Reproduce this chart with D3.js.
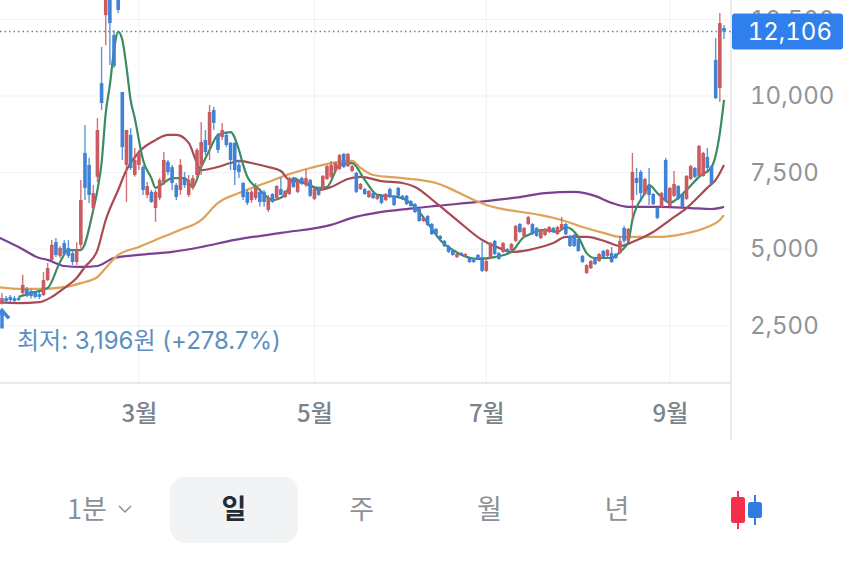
<!DOCTYPE html>
<html lang="ko">
<head>
<meta charset="utf-8">
<script src="https://cdn.jsdelivr.net/npm/d3@7"></script>
<style>
  html, body { margin: 0; padding: 0; background: #fff; }
  svg { display: block; font-family: "Noto Sans CJK KR", "Noto Sans", sans-serif; }
</style>
</head>
<body>
<div id="chart"></div>
<script>
// Daily candles (won). Index = trading day.
var opens = [3210,3400,3440,3400,3400,3570,3700,3630,3600,3530,3500,3990,4650,5230,4780,5200,5040,4870,4580,5140,
  8140,7750,6340,7360,10420,12640,13200,11990,13200,10130,7750,8730,7420,7750,7680,6770,6870,6340,6670,7190,
  7850,7680,7090,6930,7320,6770,7000,7420,7750,8560,8400,9540,8730,8660,8730,8470,8470,7750,7160,6870,
  6600,6670,6870,6870,6280,6800,6670,6960,6700,6800,7320,6870,7320,7090,7260,6640,7000,6960,7290,7360,
  7550,7620,8110,7710,7550,7490,6960,6960,6700,6830,6640,6740,6600,6960,6740,7000,6740,6740,6570,6470,
  6310,5920,6080,5820,5660,5430,5270,5100,4940,4740,4870,4780,4710,4650,4810,4740,4290,4710,5270,4870,
  4910,5000,4970,5270,5820,5430,5820,5820,5690,5360,5460,5560,5690,5490,5660,5820,5430,5460,5330,4780,
  4220,4380,4710,4610,4940,4780,4870,4840,4870,5690,5270,6600,7320,7520,6800,7030,6800,6340,6380,7910,
  6410,6740,7060,6800,6640,7290,7650,7390,7390,8010,7710,11180,10260,12220];
var closes = [3400,3310,3340,3310,3340,3830,3470,3470,3440,3440,3990,4380,5140,4810,5040,4840,4780,4580,4970,6600,
  7000,6770,6830,8890,9770,13300,12380,10980,12810,8330,8890,7650,7910,8140,6930,7060,6540,6870,7260,7910,
  7520,7160,6700,7750,7090,7260,7320,8240,8500,8170,9480,9120,8240,8890,8400,7910,7580,7520,6700,6510,
  6870,7030,6540,6540,6700,6540,7060,6770,6900,7320,7030,7220,7130,7320,6740,6960,6770,7390,7710,7750,
  7810,8070,7680,8110,7710,6870,7130,6800,6900,6670,6740,6510,6800,6700,6440,6740,6640,6470,6410,6210,
  5920,6020,5790,5490,5490,5330,5100,4910,4810,4840,4810,4840,4580,4580,4680,4290,4610,5200,4840,4680,
  5200,4910,5170,5760,5560,5690,6050,5490,5430,5630,5660,5720,5560,5720,5820,5490,5100,5100,4940,4580,
  4480,4610,4510,4840,4740,4970,4580,4710,5270,5270,5660,7520,7160,6830,7290,6770,6470,6020,6830,6570,
  7000,7130,6640,6380,7390,7710,7360,8370,8140,7650,7130,9930,12380,12106];
var highs = [3570,3470,3500,3470,3440,4160,3760,3700,3630,3600,4250,4550,5300,5360,5100,5300,5300,4970,5230,7260,
  9050,7980,7090,9280,11600,13500,13400,12150,13400,10130,8890,8950,8300,8240,7750,7190,6930,6930,7320,8170,
  7910,7750,7160,7940,7520,7420,7420,8300,9150,8890,9710,9640,8790,9120,8820,8500,8500,7910,7190,6930,
  6930,7160,6930,6930,6770,6830,7090,7320,6930,7360,7360,7260,7360,7620,7290,7000,7030,7420,7750,7880,
  7850,8110,8140,8140,7750,7520,7160,7000,6930,6870,6770,6770,6830,7000,6770,7030,6770,6770,6600,6510,
  6340,6050,6110,5850,5690,5460,5300,5140,4970,4870,4910,4870,4740,4680,4840,5230,4650,5230,5300,4910,
  5230,5040,5200,5790,5850,5720,6080,5850,5720,5660,5690,5760,5720,5760,6050,5850,5460,5490,5360,4810,
  4510,4650,4740,4870,4970,5000,5070,4870,5430,5760,5690,8140,7650,7580,7320,7650,6830,6380,6870,7980,
  7030,7550,7090,6830,7420,7750,7680,8400,8170,8300,7750,11890,12710,12320];
var lows = [3196,3240,3270,3270,3310,3530,3440,3400,3400,3370,3470,3960,4580,4740,4710,4810,4710,4480,4480,4970,
  6600,6510,6180,7190,9540,11660,11010,10910,12710,7910,6540,7580,7360,7580,6770,6670,6510,5890,6600,7090,
  7420,6930,6600,6770,7000,6700,6930,7320,7420,8070,7910,8890,8140,8560,8330,7580,7090,7320,6600,6440,
  6510,6600,6380,6380,6210,6510,6600,6770,6670,6770,7000,6830,7090,7030,6700,6600,6740,6930,7260,7320,
  7520,7580,7650,7680,7520,6830,6930,6770,6670,6640,6600,6470,6570,6670,6410,6700,6600,6440,6380,6180,
  5890,5890,5760,5460,5460,5300,5070,4870,4780,4710,4780,4740,4550,4550,4650,4250,4250,4680,4810,4650,
  4870,4870,4940,5230,5530,5400,5790,5460,5400,5330,5430,5530,5530,5460,5630,5460,5070,5070,4910,4550,
  4190,4350,4480,4580,4710,4740,4550,4680,4840,5200,5230,5950,6770,6540,6770,6440,6440,5980,6340,6540,
  6380,6700,6600,6340,6600,7260,7320,7360,7360,7580,7090,9900,9800,11860];

// Moving averages, read at the trading days where they bend
var ma5Days = [4,7,11,14,16,19,22,23,24,25,26,27,28,29,30,31,32,33,34,36,37,39,41,44,46,48,50,52,55,57,58,59,62,65,68,70,72,76,78,81,84,87,90,95,99,102,105,108,114,118,122,125,126,128,130,133,135,138,140,142,146,148,150,151,154,155,157,160,162,164,167,170,172,173];
var ma5 = [3440,3570,3730,4580,4970,4970,6280,6930,7810,9440,10360,11500,12090,11830,10950,9870,9280,8560,7910,7320,7000,7160,7320,7320,7030,7680,8240,8730,8820,8240,7750,7360,6930,6600,6770,7320,7190,7000,7030,7750,7810,7260,6770,6700,6380,5850,5300,4970,4680,4740,4910,5400,5460,5590,5630,5560,5720,5400,4870,4710,4710,4910,5230,5950,6830,7090,6830,6510,6670,6930,7360,7680,8790,9870];
var ma20Days = [-1,4,9,12,15,18,20,23,25,28,30,33,37,40,42,45,47,48,51,55,57,61,64,67,69,72,74,76,79,83,86,91,96,99,104,109,115,119,122,126,129,132,135,140,145,148,151,156,160,164,169,171,173];
var ma20 = [3270,3240,3270,3440,3730,4060,4420,4970,5950,6930,7580,8170,8560,8730,8730,8470,7810,7580,7650,7810,7880,7780,7680,7550,7260,7190,7090,6930,7030,7290,7360,7220,7160,7030,6510,5950,5300,5040,4910,4970,5070,5200,5400,5400,5230,5100,5230,5560,5950,6340,7000,7260,7750];
var ma60Days = [-1,4,9,15,19,23,25,28,33,37,43,48,52,57,64,69,74,79,84,86,89,96,104,107,112,116,121,126,129,134,139,144,148,153,158,163,169,172,173];
var ma60 = [3760,3700,3700,3760,3890,4090,4380,4810,5070,5300,5630,5950,6510,6830,7190,7450,7650,7810,7880,7650,7420,7320,7160,7000,6670,6440,6280,6180,6110,5950,5720,5530,5400,5400,5400,5490,5720,5950,6110];
var ma120Days = [-1,4,9,11,15,19,23,27,33,41,48,56,67,79,84,99,104,114,124,130,137,142,146,150,158,165,170,173];
var ma120 = [5400,5070,4710,4650,4450,4420,4450,4710,4810,4910,5070,5300,5530,5790,6020,6340,6410,6540,6700,6830,6870,6740,6510,6380,6380,6340,6310,6380];

var priceTicks = [2500, 5000, 7500, 10000, 12500];
var monthDays = [33, 75, 116, 160];
var monthLabels = ["3월", "5월", "7월", "9월"];
var lastPrice = 12106;
var lowPrice = 3196;
var lowLabel = "최저: 3,196원 (+278.7%)";
var tabLabels = ["일", "주", "월", "년"];

///////////////////////////////////////////////////////////////////////////
///////////////////////////// Set up the SVG //////////////////////////////
///////////////////////////////////////////////////////////////////////////

var width = 850,
    height = 576,
    plotRight = 731,
    plotBottom = 383;

var svg = d3.select("#chart")
  .append("svg")
    .attr("width", width)
    .attr("height", height);

// Slight softness, the source is a compressed phone screenshot
svg.append("defs")
  .append("filter")
    .attr("id", "soft")
    .append("feGaussianBlur")
      .attr("in", "SourceGraphic")
      .attr("stdDeviation", 0.4);

// The photo's candle spacing is not quite even, so a few pivots
var x = d3.scaleLinear()
  .domain([0, 47, 130, 173])
  .range([2, 197, 545, 724]);

var y = d3.scaleLinear()
  .domain([13134, 629])
  .range([0, plotBottom]);

///////////////////////////////////////////////////////////////////////////
////////////////////////////////// Axes ///////////////////////////////////
///////////////////////////////////////////////////////////////////////////

var gridColor = "#f0f1f2",
    axisColor = "#e1e3e5",
    labelColor = "#8f9499",
    numberFont = "Inter, sans-serif";

var yAxis = svg.append("g")
  .attr("transform", "translate(" + plotRight + ",0)")
  .call(d3.axisRight(y)
    .tickValues(priceTicks)
    .tickFormat(d3.format(","))
    .tickSize(0)
    .tickPadding(19));
yAxis.select(".domain").remove();
yAxis.selectAll("text")
  .attr("fill", labelColor)
  .style("font-size", "24px")
  .style("font-variant-numeric", "tabular-nums")
  .style("font-family", numberFont);

svg.append("g")
  .selectAll("line")
  .data(priceTicks)
  .enter()
  .append("line")
    .attr("x1", 0)
    .attr("x2", plotRight)
    .attr("y1", d => y(d))
    .attr("y2", d => y(d))
    .attr("stroke", gridColor)
    .attr("stroke-width", 1);

svg.append("g")
  .selectAll("line")
  .data(monthDays)
  .enter()
  .append("line")
    .attr("x1", d => x(d))
    .attr("x2", d => x(d))
    .attr("y1", 0)
    .attr("y2", plotBottom)
    .attr("stroke", gridColor)
    .attr("stroke-width", 1);

var xAxis = svg.append("g")
  .attr("transform", "translate(0," + plotBottom + ")")
  .call(d3.axisBottom(x)
    .tickValues(monthDays)
    .tickFormat((d, i) => monthLabels[i])
    .tickSize(0)
    .tickPadding(22));
xAxis.select(".domain").remove();
xAxis.selectAll("text")
  .attr("fill", "#7d838a")
  .style("font-size", "24px")
  .style("font-weight", "500")
  .style("font-family", "\"Noto Sans CJK KR\", sans-serif");

svg.append("line")
  .attr("x1", 0).attr("x2", plotRight)
  .attr("y1", plotBottom).attr("y2", plotBottom)
  .attr("stroke", axisColor)
  .attr("stroke-width", 1.5);

svg.append("line")
  .attr("x1", plotRight).attr("x2", plotRight)
  .attr("y1", 0).attr("y2", 440)
  .attr("stroke", axisColor)
  .attr("stroke-width", 1.5);

///////////////////////////////////////////////////////////////////////////
///////////////////////////// Moving averages /////////////////////////////
///////////////////////////////////////////////////////////////////////////

var marks = svg.append("g")
  .style("filter", "url(#soft)");

function drawAverage(days, values, color) {

  var line = d3.line()
    .x(d => x(d))
    .y((d, i) => y(values[i]))
    .curve(d3.curveMonotoneX);

  marks.append("path")
    .attr("d", line(days))
    .attr("fill", "none")
    .attr("stroke", color)
    .attr("stroke-width", 2.2)
    .attr("stroke-linejoin", "round");
}

drawAverage(ma120Days, ma120, "#7c3f92");
drawAverage(ma60Days, ma60, "#e0a256");
drawAverage(ma20Days, ma20, "#a84a52");
drawAverage(ma5Days, ma5, "#3b8c62");

///////////////////////////////////////////////////////////////////////////
//////////////////////////////// Candles //////////////////////////////////
///////////////////////////////////////////////////////////////////////////

// Candles sit on top of the averages in the reference
var candleRed = "#c95b60",
    candleBlue = "#4182d4";

var candles = marks.append("g")
  .selectAll("g")
  .data(d3.range(opens.length))
  .enter()
  .append("g")
    .attr("fill", d => closes[d] >= opens[d] ? candleRed : candleBlue)
    .attr("stroke", d => closes[d] >= opens[d] ? candleRed : candleBlue);

candles.append("line")
  .attr("x1", d => x(d))
  .attr("x2", d => x(d))
  .attr("y1", d => y(highs[d]))
  .attr("y2", d => y(lows[d]))
  .attr("stroke-width", 1.4)
  .attr("stroke-opacity", 0.85);

candles.append("rect")
  .attr("x", d => x(d) - 1.8)
  .attr("width", 3.6)
  .attr("y", d => y(Math.max(opens[d], closes[d])))
  .attr("height", d => Math.abs(y(opens[d]) - y(closes[d])))
  .attr("stroke", "none");

///////////////////////////////////////////////////////////////////////////
/////////////////////////////// Annotations ///////////////////////////////
///////////////////////////////////////////////////////////////////////////

// Dotted line at the last price
svg.append("line")
  .attr("x1", 0).attr("x2", plotRight)
  .attr("y1", y(lastPrice)).attr("y2", y(lastPrice))
  .attr("stroke", "#3f8fb0")
  .attr("stroke-width", 1.5)
  .attr("stroke-dasharray", "1.5 3");

svg.append("rect")
  .attr("x", plotRight + 1)
  .attr("y", y(lastPrice) - 18)
  .attr("width", 111)
  .attr("height", 36)
  .attr("rx", 3)
  .attr("fill", "#2f80ed");

svg.append("text")
  .attr("x", 832)
  .attr("y", y(lastPrice))
  .attr("dy", "0.35em")
  .attr("text-anchor", "end")
  .attr("fill", "#fff")
  .style("font-size", "24px")
  .style("font-variant-numeric", "tabular-nums")
  .style("font-family", numberFont)
  .text(d3.format(",")(lastPrice));

// Arrow under the lowest candle
var arrowX = x(0),
    arrowY = y(lowPrice) + 6;

svg.append("path")
  .attr("d", "M" + (arrowX - 7) + "," + (arrowY + 8) + "L" + arrowX + "," + arrowY + "L" + (arrowX + 7) + "," + (arrowY + 8)
    + "M" + arrowX + "," + arrowY + "V" + (arrowY + 18))
  .attr("fill", "none")
  .attr("stroke", "#3f86e0")
  .attr("stroke-width", 3.5);

svg.append("text")
  .attr("x", 17)
  .attr("y", 341)
  .attr("dy", "0.35em")
  .attr("fill", "#5b8fbf")
  .style("font-size", "24px")
  .style("font-family", "Inter, \"Noto Sans CJK KR\", sans-serif")
  .text(lowLabel);

///////////////////////////////////////////////////////////////////////////
//////////////////////////////// Toolbar //////////////////////////////////
///////////////////////////////////////////////////////////////////////////

var tabColor = "#8c9197";

svg.append("text")
  .attr("x", 67)
  .attr("y", 510)
  .attr("dy", "0.35em")
  .attr("fill", tabColor)
  .style("font-size", "27px")
  .text("1분");

svg.append("path")
  .attr("d", "M119,506L125,512L131,506")
  .attr("fill", "none")
  .attr("stroke", tabColor)
  .attr("stroke-width", 1.5);

svg.append("rect")
  .attr("x", 170)
  .attr("y", 477)
  .attr("width", 128)
  .attr("height", 66)
  .attr("rx", 15)
  .attr("fill", "#f2f3f5");

var tabX = d3.scalePoint()
  .domain(tabLabels)
  .range([234, 617]);

svg.append("g")
  .selectAll("text")
  .data(tabLabels)
  .enter()
  .append("text")
    .attr("x", d => tabX(d))
    .attr("y", 510)
    .attr("dy", "0.35em")
    .attr("text-anchor", "middle")
    .attr("fill", (d, i) => i == 0 ? "#252c38" : tabColor)
    .style("font-size", "27px")
    .style("font-weight", (d, i) => i == 0 ? "700" : "400")
    .text(d => d);

// Candle type icon
function drawIcon(cx, top, bottom, bodyTop, bodyBottom, color) {
  svg.append("line")
    .attr("x1", cx).attr("x2", cx)
    .attr("y1", top).attr("y2", bottom)
    .attr("stroke", color)
    .attr("stroke-width", 2);
  svg.append("rect")
    .attr("x", cx - 7).attr("width", 14)
    .attr("y", bodyTop).attr("height", bodyBottom - bodyTop)
    .attr("rx", 2.5)
    .attr("fill", color);
}

drawIcon(738, 491, 529, 497, 523, "#f5304a");
drawIcon(755, 495, 525, 502, 518, "#2f7de1");

</script>
</body>
</html>
